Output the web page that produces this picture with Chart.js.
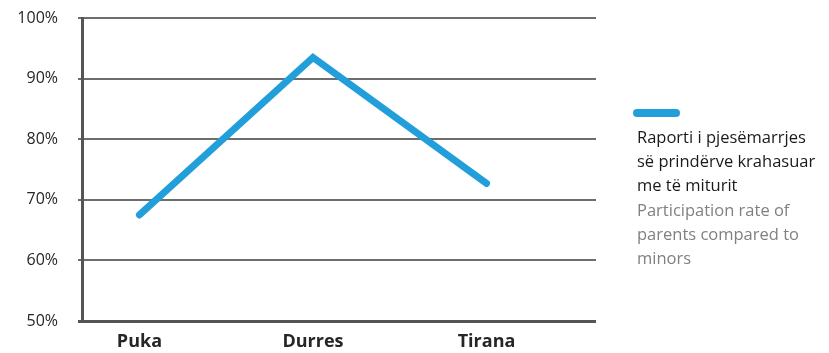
<!DOCTYPE html>
<html>
<head>
<meta charset="utf-8">
<script src="https://cdn.jsdelivr.net/npm/chart.js@4"></script>
<style>
  body { margin:0; background:#fff; }
  #wrap { position:relative; width:829px; height:353px; }
  #legend-line { position:absolute; left:633px; top:109px; width:47px; height:8px; border-radius:4px; background:#229fdb; }
  #legend-text { position:absolute; left:637px; top:125px; width:192px; font-family:"Open Sans", sans-serif; font-size:16.5px; line-height:24.2px; }
  #legend-text .sq { color:#1a1a1a; white-space:nowrap; }
  #legend-text .en { color:#808080; white-space:nowrap; }
</style>
</head>
<body>
<div id="wrap">
  <canvas id="c" width="829" height="353"></canvas>
  <div id="legend-line"></div>
  <div id="legend-text"></div>
</div>
<script>
const categories = ['Puka', 'Durres', 'Tirana'];
const participationRate = [67.5, 93.5, 72.7];
const yTicks = [50, 60, 70, 80, 90, 100];
const legendAlbanianLines = ['Raporti i pjesëmarrjes', 'së prindërve krahasuar', 'me të miturit'];
const legendEnglishLines = ['Participation rate of', 'parents compared to', 'minors'];

const lt = document.getElementById('legend-text');
legendAlbanianLines.forEach(t => { const d = document.createElement('div'); d.className = 'sq'; d.textContent = t; lt.appendChild(d); });
legendEnglishLines.forEach(t => { const d = document.createElement('div'); d.className = 'en'; d.textContent = t; lt.appendChild(d); });

const points = categories.map((c, i) => ({ x: i, y: participationRate[i] }));

new Chart(document.getElementById('c'), {
  type: 'line',
  data: {
    datasets: [{
      label: legendAlbanianLines.join(' '),
      data: points,
      borderColor: '#229fdb',
      borderWidth: 7,
      borderCapStyle: 'round',
      borderJoinStyle: 'miter',
      pointRadius: 0,
      tension: 0,
      fill: false
    }]
  },
  options: {
    responsive: false,
    animation: false,
    devicePixelRatio: 1,
    layout: { padding: { top: 18, right: 233, bottom: 0, left: 0 } },
    plugins: { legend: { display: false }, tooltip: { enabled: false } },
    scales: {
      x: {
        type: 'linear',
        min: -0.331,
        max: 2.631,
        afterBuildTicks: s => { s.ticks = categories.map((_, i) => ({ value: i })); },
        afterFit: s => { s.height = 32; s.paddingLeft = 0; s.paddingRight = 0; },
        grid: { display: false, drawTicks: false },
        border: { display: false },
        ticks: {
          autoSkip: false,
          maxRotation: 0,
          padding: 10,
          color: '#262626',
          font: { family: 'Open Sans', size: 18, weight: 'bold' },
          callback: v => categories[v]
        }
      },
      y: {
        min: 50,
        max: 100,
        afterBuildTicks: s => { s.ticks = yTicks.map(v => ({ value: v })); },
        afterFit: s => { s.width = 82; s.paddingTop = 0; s.paddingBottom = 0; },
        grid: {
          color: ctx => ctx.tick && ctx.tick.value === 50 ? '#555555' : '#6d6d6d',
          lineWidth: ctx => ctx.tick && ctx.tick.value === 50 ? 3 : 2,
          drawTicks: true,
          tickLength: 4
        },
        border: { display: true, color: '#555555', width: 3 },
        ticks: {
          padding: 20,
          color: '#262626',
          font: { family: 'Open Sans', size: 16 },
          callback: v => v + '%'
        }
      }
    }
  }
});
</script>
</body>
</html>
